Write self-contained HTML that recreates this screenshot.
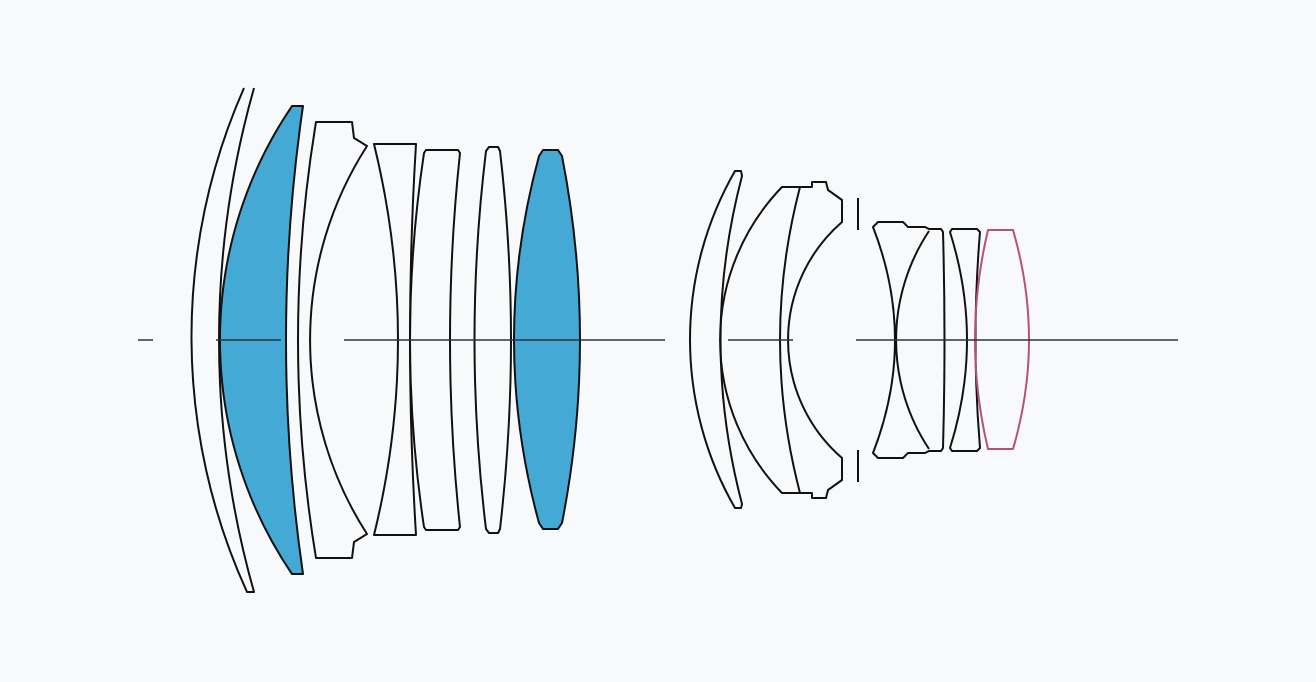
<!DOCTYPE html>
<html><head><meta charset="utf-8"><style>
html,body{margin:0;padding:0;background:#f8f9fa;}
svg{display:block}
</style></head><body>
<svg width="1316" height="682" viewBox="0 0 1316 682" xmlns="http://www.w3.org/2000/svg">
<rect width="1316" height="682" fill="#f8f9fa"/>
<g fill="none" stroke="#111" stroke-width="2" stroke-linejoin="round">
<!-- 1 thin meniscus -->
<path d="M244,88 A615,615 0 0 0 247,592 L254,592 A925,925 0 0 1 254,88"/>
<!-- 2 blue meniscus -->
<path d="M292,106 L303,106 Q269,340 303,574 L292,574 A416,416 0 0 1 292,106 Z" fill="#44a9d4"/>
<!-- 3 -->
<path d="M316,122 L352,122 L354,138 L367,146 A359,359 0 0 0 367,534 L354,542 L352,558 L316,558 Q280,340 316,122 Z"/>
<!-- 4 -->
<path d="M374,144 L416,144 Q404,340 416,535 L374,535 Q422,340 374,144 Z"/>
<!-- 5 -->
<path d="M426,150 L458,150 L460,153 Q440,340 460,527 L458,530 L426,530 L424,527 Q396,340 424,153 Z"/>
<!-- 6 -->
<path d="M489,147 L498,147 L500,151 Q522,340 500,529 L498,533 L489,533 L486,529 Q463,340 486,151 Z"/>
<!-- 7 blue biconvex -->
<path d="M543,150 L558,150 L562,156 Q598,340 562,523 L558,529 L543,529 L539,523 Q489,340 539,156 Z" fill="#44a9d4"/>
<!-- 8 -->
<path d="M735,171 L741,171 L742,176 Q699,340 742,504 L741,508 L735,508 A338,338 0 0 1 735,171 Z"/>
<!-- 9 -->
<path d="M782,187 L812,187 L812,182 L826,182 L828,190 L842,200 L842,222 A156,156 0 0 0 842,458 L842,480 L828,490 L826,498 L812,498 L812,493 L782,493 A220,220 0 0 1 782,187 Z"/>
<path d="M800,187 Q760,340 800,493"/>
<!-- stop -->
<path d="M858,198 L858,230 M858,450 L858,482"/>
<!-- 10/11 cemented -->
<path d="M873,227 L878,222 L903,222 L908,227 L925,227 L929,229 L941,229 L943,232 Q946,340 943,448 L941,451 L929,451 L925,453 L908,453 L903,458 L878,458 L873,453 Q917,340 873,227 Z"/>
<path d="M929,231 A197,197 0 0 0 929,449"/>
<!-- 12 -->
<path d="M952,229 L977,229 L980,232 Q971,340 980,448 L977,451 L952,451 L950,448 Q984,340 950,232 Z"/>
</g>
<!-- 13 pink -->
<path d="M988,230 L1013,230 Q1045,340 1013,449 L988,449 Q962,340 988,230 Z" fill="none" stroke="#b5517f" stroke-width="2" stroke-linejoin="round"/>
<!-- axis -->
<g stroke="#2b3440" stroke-width="1.6">
<path d="M138,340 L153,340 M216,340 L281,340 M344,340 L665,340 M728,340 L793,340 M856,340 L1178,340"/>
</g>
</svg>
</body></html>
